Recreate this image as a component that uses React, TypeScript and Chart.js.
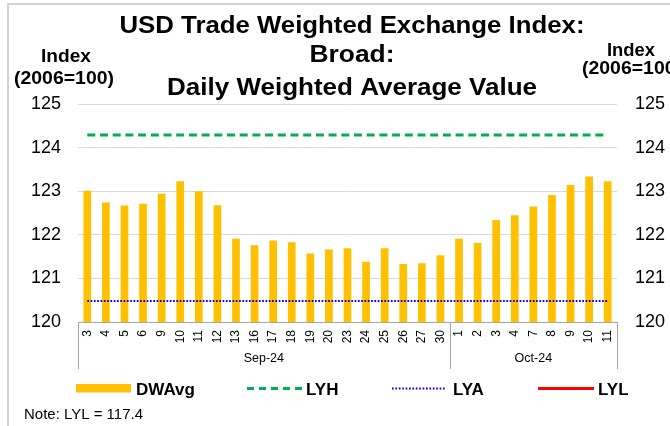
import React, { useEffect, useRef } from 'react';
import { Chart, registerables } from 'chart.js';

Chart.register(...registerables);

// ---- data ----
const days = ['3', '4', '5', '6', '9', '10', '11', '12', '13', '16', '17', '18', '19', '20', '23', '24', '25', '26', '27', '30', '1', '2', '3', '4', '7', '8', '9', '10', '11'];
const monthLabels = ['Sep-24', 'Oct-24'];
const monthCounts = [20, 9];
const dwavg = [123.01, 122.74, 122.67, 122.71, 122.94, 123.23, 123.0, 122.68, 121.91, 121.76, 121.87, 121.83, 121.57, 121.66, 121.69, 121.38, 121.69, 121.33, 121.35, 121.53, 121.91, 121.81, 122.34, 122.45, 122.65, 122.91, 123.14, 123.34, 123.23];
const lyhValue = 124.29;
const lyaValue = 120.48;
const lylValue = 117.4;
const yMin = 120;
const yMax = 125;
const yStep = 1;
const titleLines = ['USD Trade Weighted Exchange Index:', 'Broad:', 'Daily Weighted Average Value'];
const axisTitleLines = ['Index', '(2006=100)'];
const legendLabels = ['DWAvg', 'LYH', 'LYA', 'LYL'];
const noteText = 'Note: LYL = 117.4';

const FONT = 'Arial, "Liberation Sans", sans-serif';
const BAR_COLOR = '#FFC000';
const LYH_COLOR = '#00B050';
const LYA_COLOR = '#0000FF';
const LYL_COLOR = '#FF0000';

function drawText(ctx: CanvasRenderingContext2D, s: string, x: number, y: number, font: string, align: CanvasTextAlign, targetW?: number) {
  ctx.save();
  ctx.font = font;
  ctx.textBaseline = 'alphabetic';
  const w = ctx.measureText(s).width;
  const sx = targetW ? targetW / w : 1;
  ctx.translate(x, y);
  ctx.scale(sx, 1);
  ctx.textAlign = align;
  ctx.fillStyle = '#000';
  ctx.fillText(s, 0, 0);
  ctx.restore();
}

const decorPlugin = {
  id: 'decor',
  afterDraw(chart: any) {
    const ctx: CanvasRenderingContext2D = chart.ctx;
    const { left, right, bottom } = chart.chartArea;
    const xs = chart.scales.x;
    ctx.save();
    // outer frame
    ctx.strokeStyle = '#c4c4c4';
    ctx.lineWidth = 1.5;
    ctx.beginPath();
    ctx.moveTo(8, 426);
    ctx.lineTo(8, 4);
    ctx.lineTo(670, 4);
    ctx.stroke();

    // month separators
    const bounds: number[] = [left];
    let idx = 0;
    monthCounts.forEach((c) => {
      idx += c;
      if (idx >= days.length) bounds.push(right);
      else bounds.push((xs.getPixelForValue(idx - 1) + xs.getPixelForValue(idx)) / 2);
    });
    ctx.strokeStyle = '#a6a6a6';
    ctx.lineWidth = 1;
    bounds.forEach((b) => {
      const x = Math.round(b) + 0.5;
      ctx.beginPath();
      ctx.moveTo(x, bottom);
      ctx.lineTo(x, 369);
      ctx.stroke();
    });
    ctx.fillStyle = '#000';
    ctx.font = `12.5px ${FONT}`;
    ctx.textAlign = 'center';
    ctx.textBaseline = 'middle';
    monthLabels.forEach((m, i) => ctx.fillText(m, (bounds[i] + bounds[i + 1]) / 2, 359));
    ctx.restore();

    // title
    const tFont = `bold 24px ${FONT}`;
    drawText(ctx, titleLines[0], 352, 32.5, tFont, 'center', 465);
    drawText(ctx, titleLines[1], 352, 62, tFont, 'center', 85);
    drawText(ctx, titleLines[2], 352, 95, tFont, 'center', 370);

    // axis titles
    const aFont = `bold 18px ${FONT}`;
    drawText(ctx, axisTitleLines[0], 66, 62, aFont, 'center', 50);
    drawText(ctx, axisTitleLines[1], 64, 83.5, aFont, 'center', 100);
    drawText(ctx, axisTitleLines[0], 631, 56, aFont, 'center', 48);
    drawText(ctx, axisTitleLines[1], 632, 74, aFont, 'center', 100);

    // legend
    ctx.save();
    const ly = 388.5;
    ctx.fillStyle = BAR_COLOR;
    ctx.fillRect(76, 384, 55, 8.5);
    ctx.lineWidth = 3;
    ctx.strokeStyle = LYH_COLOR;
    ctx.setLineDash([7, 5]);
    ctx.beginPath(); ctx.moveTo(247, ly); ctx.lineTo(303, ly); ctx.stroke();
    ctx.lineWidth = 2;
    ctx.strokeStyle = LYA_COLOR;
    ctx.setLineDash([1.7, 1.7]);
    ctx.beginPath(); ctx.moveTo(392, ly); ctx.lineTo(445, ly); ctx.stroke();
    ctx.lineWidth = 3;
    ctx.strokeStyle = LYL_COLOR;
    ctx.setLineDash([]);
    ctx.beginPath(); ctx.moveTo(538, ly); ctx.lineTo(594, ly); ctx.stroke();
    ctx.restore();
    const lFont = `bold 17px ${FONT}`;
    const lx = [136, 306, 453, 598];
    legendLabels.forEach((l, i) => drawText(ctx, l, lx[i], 394.5, lFont, 'left'));

    // note
    drawText(ctx, noteText, 24, 419, `15px ${FONT}`, 'left', 119);
  },
};

export default function App() {
  const ref = useRef<HTMLCanvasElement | null>(null);
  useEffect(() => {
    if (!ref.current) return;
    const n = days.length;
    const chart = new Chart(ref.current, {
      type: 'bar',
      data: {
        labels: days,
        datasets: [
          {
            type: 'bar',
            label: legendLabels[0],
            data: dwavg,
            backgroundColor: BAR_COLOR,
            borderWidth: 0,
            barPercentage: 0.415,
            categoryPercentage: 1,
            order: 2,
          } as any,
          {
            type: 'line',
            label: legendLabels[1],
            data: new Array(n).fill(lyhValue),
            borderColor: LYH_COLOR,
            borderWidth: 3,
            borderDash: [8, 4.7],
            pointRadius: 0,
            fill: false,
            order: 1,
          },
          {
            type: 'line',
            label: legendLabels[2],
            data: new Array(n).fill(lyaValue),
            borderColor: LYA_COLOR,
            borderWidth: 2,
            borderDash: [1.7, 1.6],
            pointRadius: 0,
            fill: false,
            order: 0,
          },
          {
            type: 'line',
            label: legendLabels[3],
            data: new Array(n).fill(lylValue),
            borderColor: LYL_COLOR,
            borderWidth: 3,
            pointRadius: 0,
            fill: false,
            order: 0,
          },
        ],
      },
      options: {
        responsive: false,
        animation: false,
        devicePixelRatio: 1,
        layout: { padding: { top: 104, left: 0, right: 0, bottom: 0 } },
        plugins: { legend: { display: false }, tooltip: { enabled: false }, title: { display: false } },
        scales: {
          x: {
            type: 'category',
            offset: true,
            grid: { display: true, drawOnChartArea: false, drawTicks: false },
            border: { display: true, color: '#a6a6a6', width: 1 },
            ticks: {
              autoSkip: false,
              minRotation: 90,
              maxRotation: 90,
              padding: 8,
              color: '#000',
              font: { family: FONT, size: 12 },
            },
            afterFit: (s: any) => { s.height = 104; },
          },
          y: {
            position: 'left',
            min: yMin,
            max: yMax,
            ticks: { stepSize: yStep, padding: 17, color: '#000', font: { family: FONT, size: 18 } },
            grid: { color: '#d9d9d9', drawTicks: false, lineWidth: 1 },
            border: { display: false },
            afterFit: (s: any) => { s.width = 78; },
          },
          y2: {
            position: 'right',
            min: yMin,
            max: yMax,
            ticks: { stepSize: yStep, padding: 18, color: '#000', font: { family: FONT, size: 18 } },
            grid: { display: false, drawTicks: false },
            border: { display: false },
            afterFit: (s: any) => { s.width = 53; },
          },
        },
      } as any,
      plugins: [decorPlugin],
    });
    return () => chart.destroy();
  }, []);
  return (
    <div style={{ position: 'absolute', left: 0, top: 0, width: 670, height: 426, background: '#fff', overflow: 'hidden' }}>
      <canvas ref={ref} width={670} height={426} style={{ display: 'block', width: 670, height: 426 }} />
    </div>
  );
}
